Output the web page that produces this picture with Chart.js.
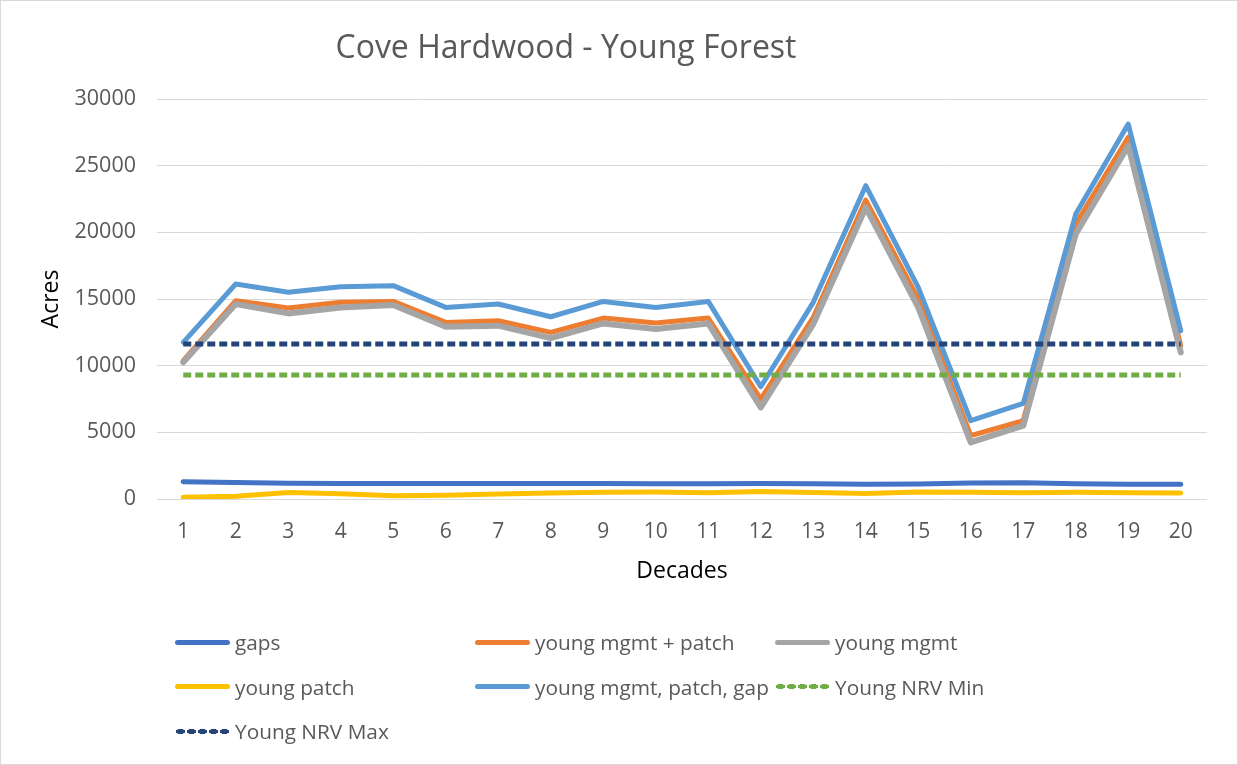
<!DOCTYPE html>
<html>
<head>
<meta charset="utf-8">
<script src="https://cdn.jsdelivr.net/npm/chart.js@4.4.1/dist/chart.umd.min.js"></script>
<style>
  html, body { margin:0; padding:0; background:#fff; }
  #frame { position:relative; width:1236px; height:763px; border:1px solid #d9d9d9; overflow:hidden; font-family:'Open Sans', sans-serif; }
  #cv { position:absolute; left:-1px; top:-1px; }
  #ttl { position:absolute; left:0; width:1130px; top:22px; text-align:center; font-size:32px; color:#595959; line-height:46px; }
  #lg { position:absolute; left:174px; top:624px; }
  .li { position:absolute; display:flex; align-items:center; font-size:20.8px; color:#595959; white-space:nowrap; height:34px; }
  .sw { width:55px; height:0; margin-right:5px; }
</style>
</head>
<body>
<div id="frame">
  <canvas id="cv" width="1238" height="765"></canvas>
  <div id="ttl">Cove Hardwood - Young Forest</div>
  <div id="lg"></div>
</div>
<script>
// values (acres per decade)
const DECADES     = ['1','2','3','4','5','6','7','8','9','10','11','12','13','14','15','16','17','18','19','20'];
const GAPS        = [1300,1230,1180,1170,1160,1160,1160,1170,1170,1150,1150,1160,1140,1110,1120,1200,1220,1150,1100,1100];
const MGMT_PATCH  = [10370,14870,14320,14750,14820,13245,13370,12500,13570,13200,13570,7500,13620,22420,15000,4750,5870,20620,27120,11500];
const MGMT        = [10250,14620,13920,14370,14550,12920,13000,12070,13170,12750,13170,6870,13120,21870,14370,4250,5500,19870,26500,11000];
const PATCH       = [130,200,480,400,250,280,380,450,500,520,470,560,480,420,520,500,470,500,460,450];
const TOTAL       = [11745,16125,15500,15925,16000,14370,14625,13670,14820,14370,14820,8420,14750,23500,15870,5870,7170,21370,28120,12620];
const NRV_MIN     = Array(20).fill(9300);
const NRV_MAX     = Array(20).fill(11625);
const Y_TICKS     = [0,5000,10000,15000,20000,25000,30000];

const FONT = "'Open Sans', sans-serif";
const GREY_TXT = '#595959';

const SERIES = [
  ['gaps', GAPS, '#4472c4', false],
  ['young mgmt + patch', MGMT_PATCH, '#ed7d31', false],
  ['young mgmt', MGMT, '#a5a5a5', false],
  ['young patch', PATCH, '#ffc000', false],
  ['young mgmt, patch, gap', TOTAL, '#5b9bd5', false],
  ['Young NRV Min', NRV_MIN, '#70ad47', true],
  ['Young NRV Max', NRV_MAX, '#264478', true],
];

const datasets = SERIES.map(([label, data, col, dot], i) => ({
  label, data,
  borderColor: col, backgroundColor: col,
  borderWidth: i === 2 ? 6 : 5,
  borderCapStyle: dot ? 'butt' : 'round', borderJoinStyle: 'round',
  borderDash: dot ? [8, 4] : [],
  pointRadius: 0, pointHoverRadius: 0,
  tension: 0, fill: false,
  order: SERIES.length - i,   // later series on top, like the original
}));

const chart = new Chart(document.getElementById('cv'), {
  type: 'line',
  data: { labels: DECADES, datasets },
  options: {
    responsive: false, animation: false, devicePixelRatio: 1,
    layout: { padding: { left: 0, top: 99, right: 31, bottom: 180 } },
    plugins: { legend: { display: false }, tooltip: { enabled: false } },
    scales: {
      x: {
        offset: true,
        grid: { display: false, drawTicks: false },
        border: { display: false },
        ticks: { color: GREY_TXT, font: { family: FONT, size: 21 }, padding: 20, maxRotation: 0, autoSkip: false },
        title: { display: true, text: 'Decades', color: '#000', font: { family: FONT, size: 23 }, padding: { top: 0, bottom: 0 } },
        afterFit: s => { s.height = 86; },
      },
      y: {
        min: 0, max: 30000,
        afterBuildTicks: s => { s.ticks = Y_TICKS.map(v => ({ value: v })); },
        grid: { color: '#d9d9d9', lineWidth: 1, drawTicks: false },
        border: { display: false },
        ticks: { color: GREY_TXT, font: { family: FONT, size: 21.5 }, padding: 21, callback: v => String(v) },
        title: { display: true, text: 'Acres', color: '#000', font: { family: FONT, size: 23 }, padding: { top: 38, bottom: 0 } },
        afterFit: s => { s.width = 157; },
      },
    },
  },
});

// legend laid out in three fixed columns, as in the original
const lg = document.getElementById('lg');
chart.data.datasets.forEach((d, i) => {
  const it = document.createElement('div');
  it.className = 'li';
  it.style.left = (i % 3) * 300 + 'px';
  it.style.top = Math.floor(i / 3) * 44.5 + 'px';
  const sw = document.createElement('span');
  sw.className = 'sw';
  if (d.borderDash.length) {
    sw.style.height = '5px';
    sw.style.background = `radial-gradient(ellipse 5px 2.6px, ${d.borderColor} 90%, transparent 100%) 0 0 / 11px 5px repeat-x`;
  } else {
    sw.style.borderTop = `5px solid ${d.borderColor}`;
    sw.style.borderRadius = '3px';
  }
  it.append(sw, document.createTextNode(d.label));
  lg.append(it);
});
</script>
</body>
</html>
